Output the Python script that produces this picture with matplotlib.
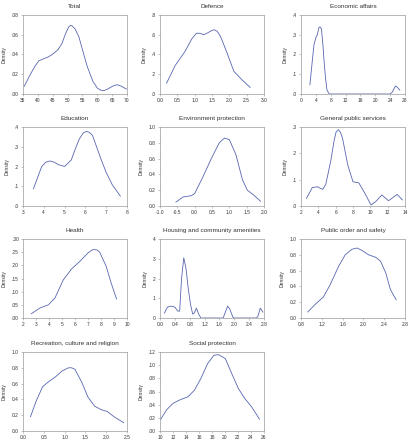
import matplotlib
matplotlib.use("Agg")
import matplotlib.pyplot as plt

plt.rcParams['font.family'] = ['Liberation Sans', 'DejaVu Sans']

# ---------------- data ----------------
titles = ["Total", "Defence", "Economic affairs", "Education", "Environment protection",
          "General public services", "Health", "Housing and community amenities",
          "Public order and safety", "Recreation, culture and religion", "Social protection"]

total_x = [35.4, 37.5, 39.0, 40.3, 41.8, 43.1, 44.3, 45.3, 46.8, 48.1, 49.3, 50.4, 51.0, 51.5, 52.5, 53.8, 55.0,
           56.6, 58.5, 60.0, 61.2, 62.2, 63.5, 64.5, 65.6, 66.7, 68.0, 69.8]
total_y = [0.0077, 0.020, 0.028, 0.0336, 0.0355, 0.037, 0.039, 0.041, 0.045, 0.051, 0.061, 0.068, 0.0695, 0.069,
           0.066, 0.058, 0.045, 0.028, 0.013, 0.006, 0.0038, 0.0034, 0.005, 0.0068, 0.0085, 0.0094, 0.008, 0.005]

defence_x = [0.19, 0.44, 0.72, 0.91, 1.05, 1.15, 1.26, 1.38, 1.5, 1.57, 1.65, 1.75, 1.94, 2.13, 2.36, 2.6]
defence_y = [0.11, 0.29, 0.43, 0.555, 0.615, 0.615, 0.60, 0.62, 0.645, 0.65, 0.635, 0.58, 0.41, 0.23, 0.145, 0.067]

econ_x = [2.4, 3.0, 3.5, 4.0, 4.4, 4.8, 5.1, 5.5, 5.9, 6.2, 6.6, 7.0, 7.6, 24.0, 24.6, 25.0, 25.4, 25.9, 26.6]
econ_y = [0.047, 0.16, 0.25, 0.285, 0.30, 0.335, 0.34, 0.33, 0.25, 0.17, 0.08, 0.02, 0.0, 0.0, 0.01, 0.025, 0.04,
          0.035, 0.02]

edu_x = [3.5, 3.9, 4.1, 4.3, 4.5, 4.69, 5.0, 5.32, 5.5, 5.71, 5.9, 6.06, 6.2, 6.34, 6.74, 7.0, 7.29, 7.68]
edu_y = [0.087, 0.20, 0.222, 0.228, 0.222, 0.21, 0.20, 0.233, 0.285, 0.34, 0.37, 0.378, 0.372, 0.358, 0.24, 0.17,
         0.108, 0.05]

env_x = [-0.54, -0.33, -0.1, 0.0, 0.24, 0.48, 0.71, 0.86, 1.0, 1.19, 1.38, 1.52, 1.71, 1.9]
env_y = [0.05, 0.115, 0.13, 0.157, 0.37, 0.60, 0.80, 0.86, 0.84, 0.65, 0.33, 0.20, 0.136, 0.06]

gps_x = [2.63, 3.3, 3.9, 4.5, 4.86, 5.45, 5.8, 6.04, 6.3, 6.55, 6.8, 7.4, 8.0, 8.67, 9.37, 10.08, 10.6, 11.33,
         12.1, 13.1, 13.7]
gps_y = [0.029, 0.07, 0.073, 0.063, 0.082, 0.174, 0.245, 0.28, 0.29, 0.28, 0.256, 0.155, 0.092, 0.088, 0.048,
         0.004, 0.016, 0.042, 0.02, 0.044, 0.023]

health_x = [2.64, 3.3, 3.95, 4.46, 5.1, 5.73, 6.37, 7.0, 7.3, 7.5, 7.7, 7.9, 8.4, 8.78, 9.2]
health_y = [0.016, 0.038, 0.05, 0.076, 0.145, 0.186, 0.215, 0.247, 0.258, 0.26, 0.258, 0.25, 0.196, 0.133, 0.072]

housing_x = [0.12, 0.2, 0.3, 0.4, 0.48, 0.53, 0.58, 0.64, 0.7, 0.76, 0.82, 0.88, 0.92, 0.98, 1.04, 1.1, 1.2,
             1.7, 1.76, 1.82, 1.88, 1.96, 2.0, 2.6, 2.64, 2.7, 2.77]
housing_y = [0.25, 0.55, 0.6, 0.55, 0.35, 0.35, 2.0, 3.05, 2.5, 1.5, 0.7, 0.2, 0.25, 0.5, 0.2, 0.0, 0.0,
             0.0, 0.3, 0.6, 0.45, 0.05, 0.0, 0.0, 0.1, 0.5, 0.3]

pos_x = [0.93, 1.07, 1.23, 1.36, 1.52, 1.65, 1.78, 1.88, 1.97, 2.1, 2.23, 2.33, 2.43, 2.52, 2.63]
pos_y = [0.076, 0.17, 0.266, 0.42, 0.65, 0.80, 0.87, 0.886, 0.856, 0.80, 0.77, 0.72, 0.57, 0.36, 0.23]

rec_x = [0.18, 0.31, 0.47, 0.63, 0.78, 0.94, 1.09, 1.17, 1.25, 1.41, 1.56, 1.72, 1.88, 2.03, 2.19, 2.42]
rec_y = [0.18, 0.37, 0.56, 0.63, 0.685, 0.76, 0.80, 0.80, 0.78, 0.62, 0.43, 0.315, 0.27, 0.245, 0.18, 0.105]

soc_x = [10.1, 11.0, 12.0, 13.0, 14.3, 15.3, 16.3, 17.3, 18.3, 19.0, 20.05, 21.05, 22.06, 23.07, 24.07, 25.3]
soc_y = [0.0177, 0.032, 0.042, 0.047, 0.052, 0.062, 0.08, 0.102, 0.115, 0.116, 0.11, 0.087, 0.0645, 0.049, 0.037, 0.018]

xticks = [
    [35, 40, 45, 50, 55, 60, 65, 70],
    [0.0, 0.5, 1.0, 1.5, 2.0, 2.5, 3.0],
    [0, 4, 8, 12, 16, 20, 24, 28],
    [3, 4, 5, 6, 7, 8],
    [-1.0, -0.5, 0.0, 0.5, 1.0, 1.5, 2.0],
    [2, 4, 6, 8, 10, 12, 14],
    [2, 3, 4, 5, 6, 7, 8, 9, 10],
    [0.0, 0.4, 0.8, 1.2, 1.6, 2.0, 2.4, 2.8],
    [0.8, 1.2, 1.6, 2.0, 2.4, 2.8],
    [0.0, 0.5, 1.0, 1.5, 2.0, 2.5],
    [10, 12, 14, 16, 18, 20, 22, 24, 26],
]
xticklabels = [
    ["35", "40", "45", "50", "55", "60", "65", "70"],
    ["0.0", "0.5", "1.0", "1.5", "2.0", "2.5", "3.0"],
    ["0", "4", "8", "12", "16", "20", "24", "28"],
    ["3", "4", "5", "6", "7", "8"],
    ["-1.0", "-0.5", "0.0", "0.5", "1.0", "1.5", "2.0"],
    ["2", "4", "6", "8", "10", "12", "14"],
    ["2", "3", "4", "5", "6", "7", "8", "9", "10"],
    ["0.0", "0.4", "0.8", "1.2", "1.6", "2.0", "2.4", "2.8"],
    ["0.8", "1.2", "1.6", "2.0", "2.4", "2.8"],
    ["0.0", "0.5", "1.0", "1.5", "2.0", "2.5"],
    ["10", "12", "14", "16", "18", "20", "22", "24", "26"],
]
yticks = [
    [0.0, 0.02, 0.04, 0.06, 0.08],
    [0.0, 0.2, 0.4, 0.6, 0.8],
    [0.0, 0.1, 0.2, 0.3, 0.4],
    [0.0, 0.1, 0.2, 0.3, 0.4],
    [0.0, 0.2, 0.4, 0.6, 0.8, 1.0],
    [0.0, 0.1, 0.2, 0.3],
    [0.0, 0.05, 0.10, 0.15, 0.20, 0.25, 0.30],
    [0, 1, 2, 3, 4],
    [0.0, 0.2, 0.4, 0.6, 0.8, 1.0],
    [0.0, 0.2, 0.4, 0.6, 0.8, 1.0],
    [0.0, 0.02, 0.04, 0.06, 0.08, 0.10, 0.12],
]
yticklabels = [
    [".00", ".02", ".04", ".06", ".08"],
    [".0", ".2", ".4", ".6", ".8"],
    [".0", ".1", ".2", ".3", ".4"],
    [".0", ".1", ".2", ".3", ".4"],
    ["0.0", "0.2", "0.4", "0.6", "0.8", "1.0"],
    [".0", ".1", ".2", ".3"],
    [".00", ".05", ".10", ".15", ".20", ".25", ".30"],
    ["0", "1", "2", "3", "4"],
    ["0.0", "0.2", "0.4", "0.6", "0.8", "1.0"],
    ["0.0", "0.2", "0.4", "0.6", "0.8", "1.0"],
    [".00", ".02", ".04", ".06", ".08", ".10", ".12"],
]

series = [(total_x, total_y), (defence_x, defence_y), (econ_x, econ_y), (edu_x, edu_y),
          (env_x, env_y), (gps_x, gps_y), (health_x, health_y), (housing_x, housing_y),
          (pos_x, pos_y), (rec_x, rec_y), (soc_x, soc_y)]

# ---------------- layout ----------------
W, H = 410, 440
fig = plt.figure(figsize=(W / 100, H / 100), dpi=100)
fig.patch.set_facecolor("white")

col_left = [23, 160, 301]
row_top = [15, 127, 239, 352]
aw, ah = 104, 79

line_color = "#5866b0"
frame_color = "#9a9a9a"
text_color = "#333333"

for i, (title, (xs, ys)) in enumerate(zip(titles, series)):
    r, c = divmod(i, 3)
    left = col_left[c] / W
    bottom = 1 - (row_top[r] + ah) / H
    ax = fig.add_axes([left, bottom, aw / W, ah / H])
    ax.plot(xs, ys, color=line_color, lw=0.6, solid_joinstyle="round")
    ax.set_xlim(xticks[i][0], xticks[i][-1])
    ax.set_ylim(yticks[i][0], yticks[i][-1])
    ax.set_xticks(xticks[i])
    ax.set_xticklabels(xticklabels[i])
    ax.set_yticks(yticks[i])
    ax.set_yticklabels(yticklabels[i])
    ax.tick_params(direction="out", length=1.5, width=0.4, pad=1.5,
                   labelsize=3.5, colors=frame_color, labelcolor=text_color)
    for sp in ax.spines.values():
        sp.set_color(frame_color)
        sp.set_linewidth(0.5)
    ax.set_title(title, fontsize=4.6, color=text_color, pad=5)
    ax.set_ylabel("Density", fontsize=3.6, color=text_color, labelpad=4)

fig.savefig("out.png", dpi=100, facecolor="white")
